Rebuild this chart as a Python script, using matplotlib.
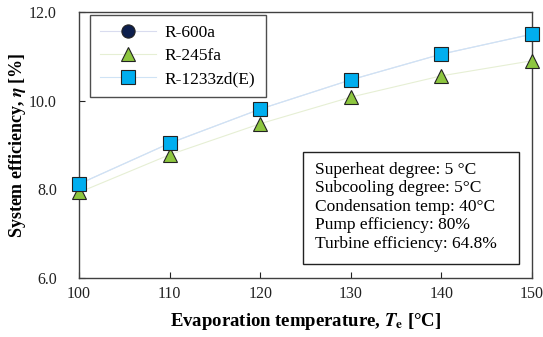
import matplotlib
matplotlib.use("Agg")
import matplotlib.pyplot as plt
from matplotlib.patches import Rectangle

plt.rcParams["font.family"] = ["Liberation Serif", "DejaVu Serif"]
plt.rcParams["mathtext.fontset"] = "stix"

temps = [100, 110, 120, 130, 140, 150]
eff_r600a = [8.12, 9.04, 9.81, 10.47, 11.05, 11.50]
eff_r245fa = [7.93, 8.78, 9.48, 10.08, 10.56, 10.90]
eff_r1233zd = [8.12, 9.04, 9.81, 10.47, 11.05, 11.50]

conditions = [
    "Superheat degree: 5 \u00b0C",
    "Subcooling degree: 5\u00b0C",
    "Condensation temp: 40\u00b0C",
    "Pump efficiency: 80%",
    "Turbine efficiency: 64.8%",
]


def main():
    fig = plt.figure(figsize=(5.43, 3.37), dpi=100)
    ax = fig.add_axes([79 / 543, 1 - 278 / 337, (532 - 79) / 543, (278 - 12) / 337])

    ax.plot(temps, eff_r600a, color="#d9dcef", lw=0.8, marker="o", ms=9.5,
            mfc="#0d1f4d", mec="#222222", mew=0.8, label="R-600a", zorder=2)
    ax.plot(temps, eff_r245fa, color="#e6efd4", lw=0.8, marker="^", ms=9.5,
            mfc="#8dc63f", mec="#222222", mew=0.8, label="R-245fa", zorder=3)
    ax.plot(temps, eff_r1233zd, color="#cfe3f5", lw=0.8, marker="s", ms=9.5,
            mfc="#00aeef", mec="#222222", mew=0.8, label="R-1233zd(E)", zorder=4)

    ax.set_xlim(100, 150)
    ax.set_ylim(6, 12)
    ax.set_xticks(range(100, 151, 10))
    ax.set_yticks([6, 8, 10, 12])
    ax.set_yticklabels(["6.0", "8.0", "10.0", "12.0"])
    ax.tick_params(direction="in", length=4, labelsize=11.5, colors="#222222")
    ax.tick_params(axis="y", pad=16)
    ax.tick_params(axis="x", pad=5.5)
    for s in ax.spines.values():
        s.set_color("#404040")
        s.set_linewidth(1.0)
    for ln in ax.lines:
        ln.set_clip_on(False)

    ax.set_xlabel("Evaporation temperature, $\\mathbfit{T}_\\mathbf{e}$ [\u00b0C]",
                  fontsize=13.5, fontweight="bold", labelpad=7)
    ax.set_ylabel("System efficiency, $\\mathbfit{\\eta}$ [%]",
                  fontsize=13, fontweight="bold", labelpad=1)

    leg = ax.legend(loc="upper left", bbox_to_anchor=(0.024, 0.989), borderaxespad=0,
                    fontsize=12.5, frameon=True, fancybox=False, edgecolor="#222222",
                    handlelength=3.2, handletextpad=0.5, borderpad=0.6,
                    labelspacing=0.38)
    leg.get_frame().set_linewidth(1.0)

    ax.add_patch(Rectangle((0.494, 0.053), 0.477, 0.421, transform=ax.transAxes,
                           fc="white", ec="#222222", lw=1.0, zorder=5))
    ax.text(0.521, 0.268, "\n".join(conditions), transform=ax.transAxes,
            fontsize=12.5, va="center", ha="left", linespacing=1.2, zorder=6)

    fig.savefig("out.png", dpi=100)


if __name__ == "__main__":
    main()
